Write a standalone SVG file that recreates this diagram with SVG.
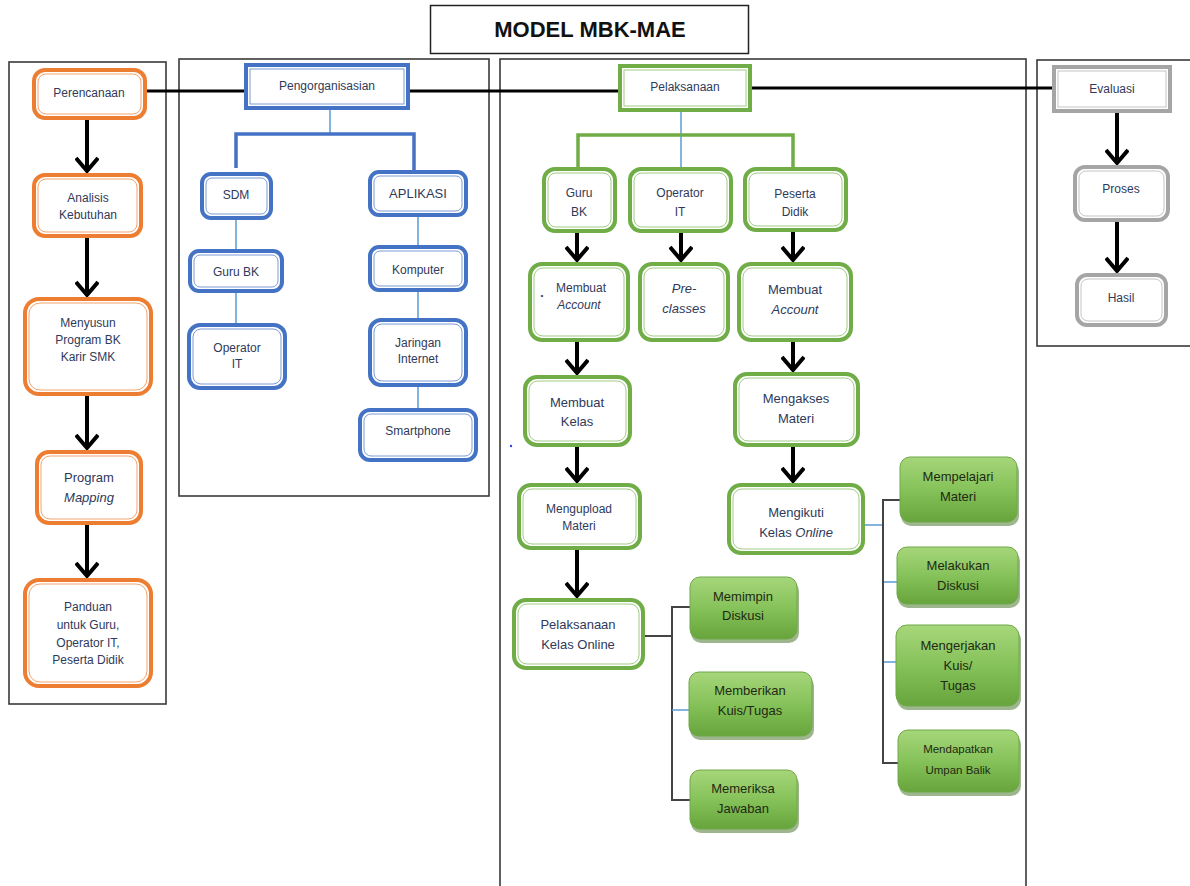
<svg xmlns="http://www.w3.org/2000/svg" width="1190" height="886" viewBox="0 0 1190 886">
  <defs>
    <style>
      text { font-family: "Liberation Sans", Arial, sans-serif; fill: #2F3A5A; text-anchor: middle; font-size: 12px; }
      .title { font-size: 22px; font-weight: bold; fill: #111; }
      .it { font-style: italic; }
      .dk { fill: #1E2A12; }
      .panel { fill: none; stroke: #3a3a3a; stroke-width: 1.6; }
      .o1 { fill: #fff; stroke: #ED7D31; stroke-width: 4; }
      .o2 { fill: none; stroke: #F2A36E; stroke-width: 1; }
      .b1 { fill: #fff; stroke: #4472C4; stroke-width: 4; }
      .b2 { fill: none; stroke: #7B9BD6; stroke-width: 1; }
      .g1 { fill: #fff; stroke: #70AD47; stroke-width: 4; }
      .g2 { fill: none; stroke: #A0CC84; stroke-width: 1; }
      .s1 { fill: #fff; stroke: #A5A5A5; stroke-width: 4; }
      .s2 { fill: none; stroke: #C4C4C4; stroke-width: 1; }
      .solid { fill: url(#greenFill); stroke: #6FA848; stroke-width: 1; }
      .shadow { fill: #4E7A32; opacity: 0.55; }
      .main { fill: none; stroke: #000; stroke-width: 3; }
      .arrow { fill: none; stroke: #000; stroke-width: 4; marker-end: url(#chev); }
      .thinblue { fill: none; stroke: #5B9BD5; stroke-width: 1.5; }
      .bluebar { fill: none; stroke: #4472C4; stroke-width: 3.5; }
      .greenbar { fill: none; stroke: #70AD47; stroke-width: 3.5; }
      .grayline { fill: none; stroke: #444; stroke-width: 2; }
    </style>
    <linearGradient id="greenFill" x1="0" y1="0" x2="0" y2="1">
      <stop offset="0" stop-color="#A6D67A"/>
      <stop offset="0.5" stop-color="#86C25A"/>
      <stop offset="1" stop-color="#68A43C"/>
    </linearGradient>
    <marker id="chev" viewBox="0 0 20 24" refX="15" refY="12" markerWidth="20" markerHeight="24" markerUnits="userSpaceOnUse" orient="auto">
      <path d="M2,1 L15,12 L2,23" fill="none" stroke="#000" stroke-width="4"/>
    </marker>
  </defs>

  <rect width="1190" height="886" fill="#fff"/>

  <!-- title -->
  <g id="title">
    <rect x="430.5" y="5.5" width="318" height="48" fill="#fff" stroke="#222" stroke-width="1.5"/>
    <text class="title" x="590" y="37">MODEL MBK-MAE</text>
  </g>

  <!-- panels -->
  <g id="panels">
    <rect class="panel" x="9" y="62" width="157" height="642"/>
    <rect class="panel" x="179" y="59" width="310" height="437"/>
    <rect class="panel" x="500" y="59" width="526" height="840"/>
    <rect class="panel" x="1037" y="60" width="160" height="286"/>
  </g>

  <!-- connectors -->
  <g id="connectors">
    <!-- main phase line -->
    <path class="main" d="M147,91 H244 M410,91 H618 M752,88 H1052"/>
    <!-- planning flow -->
    <path class="arrow" d="M87,120 V171"/>
    <path class="arrow" d="M87,238 V295"/>
    <path class="arrow" d="M87,396 V448"/>
    <path class="arrow" d="M87,525 V576"/>
    <!-- organising tree -->
    <path class="thinblue" d="M330,110 V134"/>
    <path class="bluebar" d="M236,168 V134 H414 V170"/>
    <path class="thinblue" d="M236,220 V249 M236,293 V323"/>
    <path class="thinblue" d="M418,217 V245 M418,292 V318 M418,387 V408"/>
    <!-- implementation tree -->
    <path class="thinblue" d="M681,112 V167"/>
    <path class="greenbar" d="M578,167 V135 H793 V167"/>
    <path class="arrow" d="M577,233 V260"/>
    <path class="arrow" d="M681,233 V260"/>
    <path class="arrow" d="M793,232 V260"/>
    <path class="arrow" d="M577,342 V373"/>
    <path class="arrow" d="M577,447 V481"/>
    <path class="arrow" d="M577,550 V596"/>
    <path class="arrow" d="M793,342 V370"/>
    <path class="arrow" d="M793,447 V481"/>
    <path class="grayline" d="M645,636 H672 M690,607 H672 V800 H690"/>
    <path class="thinblue" d="M672,710 H689"/>
    <path class="thinblue" d="M865,525 H883 M883,582 H897 M883,662 H896"/>
    <path class="grayline" d="M900,500 H883 V763 H898"/>
    <!-- evaluation flow -->
    <path class="arrow" d="M1117,113 V163"/>
    <path class="arrow" d="M1117,222 V271"/>
    <circle cx="511" cy="446" r="1.2" fill="#3344dd"/>
  </g>

  <!-- planning (orange) -->
  <g id="n-perencanaan">
    <rect class="o1" x="34" y="70" width="111" height="48" rx="11"/>
    <rect class="o2" x="38" y="74" width="103" height="40" rx="8"/>
    <text x="89" y="97">Perencanaan</text>
  </g>
  <g id="n-analisis">
    <rect class="o1" x="34" y="175" width="107" height="61" rx="11"/>
    <rect class="o2" x="38" y="179" width="99" height="53" rx="8"/>
    <text x="88" y="202">Analisis</text>
    <text x="88" y="219">Kebutuhan</text>
  </g>
  <g id="n-menyusun">
    <rect class="o1" x="25" y="299" width="126" height="95" rx="14"/>
    <rect class="o2" x="29" y="303" width="118" height="87" rx="11"/>
    <text x="88" y="327">Menyusun</text>
    <text x="88" y="344">Program BK</text>
    <text x="88" y="361">Karir SMK</text>
  </g>
  <g id="n-mapping">
    <rect class="o1" x="37" y="452" width="104" height="71" rx="12"/>
    <rect class="o2" x="41" y="456" width="96" height="63" rx="9"/>
    <text x="89" y="482" style="font-size:13px">Program</text>
    <text class="it" x="89" y="502" style="font-size:13px">Mapping</text>
  </g>
  <g id="n-panduan">
    <rect class="o1" x="25" y="580" width="126" height="106" rx="14"/>
    <rect class="o2" x="29" y="584" width="118" height="98" rx="11"/>
    <text x="88" y="611">Panduan</text>
    <text x="88" y="629">untuk Guru,</text>
    <text x="88" y="647">Operator IT,</text>
    <text x="88" y="664">Peserta Didik</text>
  </g>

  <!-- organising (blue) -->
  <g id="n-pengorganisasian">
    <rect class="b1" x="246" y="65" width="162" height="43"/>
    <rect class="b2" x="250" y="69" width="154" height="35"/>
    <text x="327" y="90">Pengorganisasian</text>
  </g>
  <g id="n-sdm">
    <rect class="b1" x="202" y="174" width="69" height="44" rx="9"/>
    <rect class="b2" x="206" y="178" width="61" height="36" rx="6"/>
    <text x="236" y="199">SDM</text>
  </g>
  <g id="n-aplikasi">
    <rect class="b1" x="370" y="172" width="96" height="43" rx="9"/>
    <rect class="b2" x="374" y="176" width="88" height="35" rx="6"/>
    <text x="418" y="198" style="font-size:13px">APLIKASI</text>
  </g>
  <g id="n-gurubk-org">
    <rect class="b1" x="190" y="251" width="92" height="40" rx="9"/>
    <rect class="b2" x="194" y="255" width="84" height="32" rx="6"/>
    <text x="236" y="276">Guru BK</text>
  </g>
  <g id="n-operator-org">
    <rect class="b1" x="189" y="325" width="96" height="63" rx="11"/>
    <rect class="b2" x="193" y="329" width="88" height="55" rx="8"/>
    <text x="237" y="352">Operator</text>
    <text x="237" y="368">IT</text>
  </g>
  <g id="n-komputer">
    <rect class="b1" x="370" y="247" width="96" height="43" rx="9"/>
    <rect class="b2" x="374" y="251" width="88" height="35" rx="6"/>
    <text x="418" y="274">Komputer</text>
  </g>
  <g id="n-jaringan">
    <rect class="b1" x="370" y="320" width="96" height="65" rx="11"/>
    <rect class="b2" x="374" y="324" width="88" height="57" rx="8"/>
    <text x="418" y="347">Jaringan</text>
    <text x="418" y="363">Internet</text>
  </g>
  <g id="n-smartphone">
    <rect class="b1" x="360" y="410" width="116" height="50" rx="10"/>
    <rect class="b2" x="364" y="414" width="108" height="42" rx="7"/>
    <text x="418" y="435">Smartphone</text>
  </g>

  <!-- implementation (green) -->
  <g id="n-pelaksanaan">
    <rect class="g1" x="620" y="66" width="130" height="44"/>
    <rect class="g2" x="624" y="70" width="122" height="36"/>
    <text x="685" y="91">Pelaksanaan</text>
  </g>
  <g id="n-gurubk">
    <rect class="g1" x="544" y="169" width="71" height="62" rx="11"/>
    <rect class="g2" x="548" y="173" width="63" height="54" rx="8"/>
    <text x="579" y="197">Guru</text>
    <text x="579" y="216">BK</text>
  </g>
  <g id="n-operator">
    <rect class="g1" x="630" y="169" width="101" height="62" rx="11"/>
    <rect class="g2" x="634" y="173" width="93" height="54" rx="8"/>
    <text x="680" y="197">Operator</text>
    <text x="680" y="216">IT</text>
  </g>
  <g id="n-peserta">
    <rect class="g1" x="745" y="169" width="101" height="61" rx="11"/>
    <rect class="g2" x="749" y="173" width="93" height="53" rx="8"/>
    <text x="795" y="198">Peserta</text>
    <text x="795" y="216">Didik</text>
  </g>
  <g id="n-account-guru">
    <rect class="g1" x="530" y="264" width="98" height="76" rx="12"/>
    <rect class="g2" x="534" y="268" width="90" height="68" rx="9"/>
    <text x="542" y="298" style="font-size:8px">•</text>
    <text x="581" y="292">Membuat</text>
    <text class="it" x="579" y="309">Account</text>
  </g>
  <g id="n-preclasses">
    <rect class="g1" x="640" y="264" width="88" height="76" rx="12"/>
    <rect class="g2" x="644" y="268" width="80" height="68" rx="9"/>
    <text class="it" x="684" y="293" style="font-size:13px">Pre-</text>
    <text class="it" x="684" y="313" style="font-size:13px">classes</text>
  </g>
  <g id="n-account-siswa">
    <rect class="g1" x="739" y="264" width="112" height="76" rx="12"/>
    <rect class="g2" x="743" y="268" width="104" height="68" rx="9"/>
    <text x="795" y="294" style="font-size:13px">Membuat</text>
    <text class="it" x="795" y="314" style="font-size:13px">Account</text>
  </g>
  <g id="n-kelas">
    <rect class="g1" x="525" y="377" width="105" height="68" rx="12"/>
    <rect class="g2" x="529" y="381" width="97" height="60" rx="9"/>
    <text x="577" y="407" style="font-size:13px">Membuat</text>
    <text x="577" y="426" style="font-size:13px">Kelas</text>
  </g>
  <g id="n-upload">
    <rect class="g1" x="519" y="485" width="121" height="63" rx="12"/>
    <rect class="g2" x="523" y="489" width="113" height="55" rx="9"/>
    <text x="579" y="513">Mengupload</text>
    <text x="579" y="530">Materi</text>
  </g>
  <g id="n-kelasonline">
    <rect class="g1" x="514" y="600" width="129" height="68" rx="12"/>
    <rect class="g2" x="518" y="604" width="121" height="60" rx="9"/>
    <text x="578" y="629" style="font-size:13px">Pelaksanaan</text>
    <text x="578" y="649" style="font-size:13px">Kelas Online</text>
  </g>
  <g id="n-mengakses">
    <rect class="g1" x="735" y="374" width="123" height="71" rx="12"/>
    <rect class="g2" x="739" y="378" width="115" height="63" rx="9"/>
    <text x="796" y="403" style="font-size:13px">Mengakses</text>
    <text x="796" y="423" style="font-size:13px">Materi</text>
  </g>
  <g id="n-mengikuti">
    <rect class="g1" x="729" y="485" width="134" height="68" rx="12"/>
    <rect class="g2" x="733" y="489" width="126" height="60" rx="9"/>
    <text x="796" y="517" style="font-size:13px">Mengikuti</text>
    <text x="796" y="537" style="font-size:13px">Kelas <tspan class="it">Online</tspan></text>
  </g>

  <!-- teacher activities -->
  <g id="n-memimpin">
    <rect class="shadow" x="691" y="581" width="108" height="62" rx="10"/>
    <rect class="solid" x="690" y="577" width="107" height="62" rx="10"/>
    <text class="dk" x="743" y="601" style="font-size:13px">Memimpin</text>
    <text class="dk" x="743" y="620" style="font-size:13px">Diskusi</text>
  </g>
  <g id="n-memberikan">
    <rect class="shadow" x="690" y="676" width="124" height="64" rx="10"/>
    <rect class="solid" x="689" y="672" width="123" height="64" rx="10"/>
    <text class="dk" x="750" y="695" style="font-size:13px">Memberikan</text>
    <text class="dk" x="750" y="715" style="font-size:13px">Kuis/Tugas</text>
  </g>
  <g id="n-memeriksa">
    <rect class="shadow" x="691" y="774" width="108" height="59" rx="10"/>
    <rect class="solid" x="690" y="770" width="107" height="59" rx="10"/>
    <text class="dk" x="743" y="793" style="font-size:13px">Memeriksa</text>
    <text class="dk" x="743" y="813" style="font-size:13px">Jawaban</text>
  </g>

  <!-- student activities -->
  <g id="n-mempelajari">
    <rect class="shadow" x="901" y="461" width="118" height="65" rx="10"/>
    <rect class="solid" x="900" y="457" width="117" height="65" rx="10"/>
    <text class="dk" x="958" y="481" style="font-size:13px">Mempelajari</text>
    <text class="dk" x="958" y="501" style="font-size:13px">Materi</text>
  </g>
  <g id="n-diskusi">
    <rect class="shadow" x="898" y="551" width="122" height="57" rx="10"/>
    <rect class="solid" x="897" y="547" width="121" height="57" rx="10"/>
    <text class="dk" x="958" y="570" style="font-size:13px">Melakukan</text>
    <text class="dk" x="958" y="590" style="font-size:13px">Diskusi</text>
  </g>
  <g id="n-mengerjakan">
    <rect class="shadow" x="897" y="629" width="124" height="81" rx="11"/>
    <rect class="solid" x="896" y="625" width="123" height="81" rx="11"/>
    <text class="dk" x="958" y="650" style="font-size:13px">Mengerjakan</text>
    <text class="dk" x="958" y="670" style="font-size:13px">Kuis/</text>
    <text class="dk" x="958" y="690" style="font-size:13px">Tugas</text>
  </g>
  <g id="n-umpanbalik">
    <rect class="shadow" x="899" y="734" width="122" height="62" rx="10"/>
    <rect class="solid" x="898" y="730" width="121" height="62" rx="10"/>
    <text class="dk" x="958" y="753" style="font-size:11.5px">Mendapatkan</text>
    <text class="dk" x="958" y="774" style="font-size:11.5px">Umpan Balik</text>
  </g>

  <!-- evaluation (gray) -->
  <g id="n-evaluasi">
    <rect class="s1" x="1054" y="67" width="116" height="44"/>
    <rect class="s2" x="1058" y="71" width="108" height="36"/>
    <text x="1112" y="93">Evaluasi</text>
  </g>
  <g id="n-proses">
    <rect class="s1" x="1075" y="167" width="93" height="53" rx="10"/>
    <rect class="s2" x="1079" y="171" width="85" height="45" rx="7"/>
    <text x="1121" y="193">Proses</text>
  </g>
  <g id="n-hasil">
    <rect class="s1" x="1077" y="275" width="89" height="50" rx="10"/>
    <rect class="s2" x="1081" y="279" width="81" height="42" rx="7"/>
    <text x="1121" y="302">Hasil</text>
  </g>
</svg>
